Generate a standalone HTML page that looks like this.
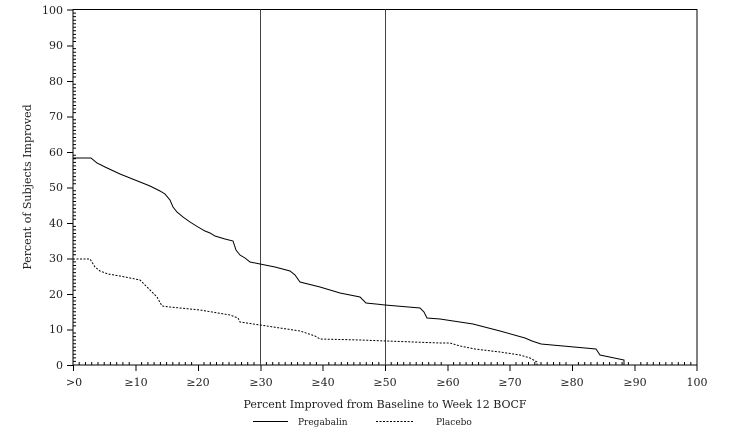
<!DOCTYPE html><html><head><style>body{margin:0;background:#fff}svg{display:block}text{font-family:"DejaVu Serif","Liberation Serif",serif;font-size:11px;fill:#222}</style></head><body>
<svg width="736" height="434" viewBox="0 0 736 434">
<g stroke="#000" stroke-width="1" fill="none">
<rect x="73" y="9.5" width="624" height="355.5"/>
<line x1="260.5" y1="9.5" x2="260.5" y2="365" stroke="#444"/>
<line x1="385.5" y1="9.5" x2="385.5" y2="365" stroke="#444"/>
</g>
<polyline fill="none" stroke="#000" stroke-width="1" points="73,158 91,158 97,163 105,167 120,174 135,180 150,186 160,191 165,194 170,200 173,207 177,212 183,217 190,222 198,227 205,231 210,233 215,236 225,239 233,241 236,250 240,255 245,258 250,262 260,264 275,267 290,271 295,275 300,282 320,287 340,293 360,297 363,300 366,303 385,305 420,308 424,312 427,318 440,319 473,324 500,331 525,338 532,341 541,344 596,349 600,355 624,360 624,365"/>
<polyline fill="none" stroke="#000" stroke-width="1" stroke-dasharray="2,1.5" points="73,259 90,259 95,267 100,271 108,274 120,276 140,280 145,285 150,290 157,297 162,306 170,307 200,310 230,315 238,318 240,322 260,325 300,331 315,336 320,339 360,340 440,343 450,343 460,346 475,349 500,352 520,355 530,358 537,362 537,365"/>
<g text-anchor="end">
<text x="63" y="369">0</text><text x="63" y="333">10</text><text x="63" y="298">20</text><text x="63" y="262">30</text><text x="63" y="227">40</text><text x="63" y="191">50</text><text x="63" y="156">60</text><text x="63" y="120">70</text><text x="63" y="85">80</text><text x="63" y="49">90</text><text x="63" y="14">100</text>
</g>
<g text-anchor="middle">
<text x="74" y="386">&gt;0</text><text x="136" y="386">≥10</text><text x="198" y="386">≥20</text><text x="261" y="386">≥30</text><text x="323" y="386">≥40</text><text x="385" y="386">≥50</text><text x="448" y="386">≥60</text><text x="510" y="386">≥70</text><text x="572" y="386">≥80</text><text x="635" y="386">≥90</text><text x="697" y="386">100</text>
<text x="385" y="408">Percent Improved from Baseline to Week 12 BOCF</text>
<text transform="translate(31,187) rotate(-90)">Percent of Subjects Improved</text>
</g>
<line x1="253" y1="421.5" x2="288" y2="421.5" stroke="#000"/>
<line x1="376" y1="421.5" x2="414" y2="421.5" stroke="#000" stroke-dasharray="2,1.5"/>
<text x="298" y="425" style="font-size:9px">Pregabalin</text>
<text x="436" y="425" style="font-size:9px">Placebo</text>
<path stroke="#000" stroke-width="1" fill="none" d="
M67,365.5H73 M67,330H73 M67,294.5H73 M67,259H73 M67,223.5H73 M67,188H73 M67,152.5H73 M67,117H73 M67,81.5H73 M67,46H73 M67,10H73
M73.5,365V371 M136,365V371 M198.5,365V371 M261,365V371 M323,365V371 M385.5,365V371 M448,365V371 M510,365V371 M572.5,365V371 M635,365V371 M697,365V371"/>
<g id="minor"></g>
<script>
var g=document.getElementById('minor'),ns='http://www.w3.org/2000/svg',d='';
for(var i=1;i<100;i++){if(i%10==0)continue;var y=365-i*3.555;d+='M73,'+y.toFixed(1)+'H76 ';var x=73+i*6.24;d+='M'+x.toFixed(1)+',365V362 ';}
var p=document.createElementNS(ns,'path');p.setAttribute('d',d);p.setAttribute('stroke','#000');p.setAttribute('fill','none');g.appendChild(p);
</script>
</svg></body></html>
